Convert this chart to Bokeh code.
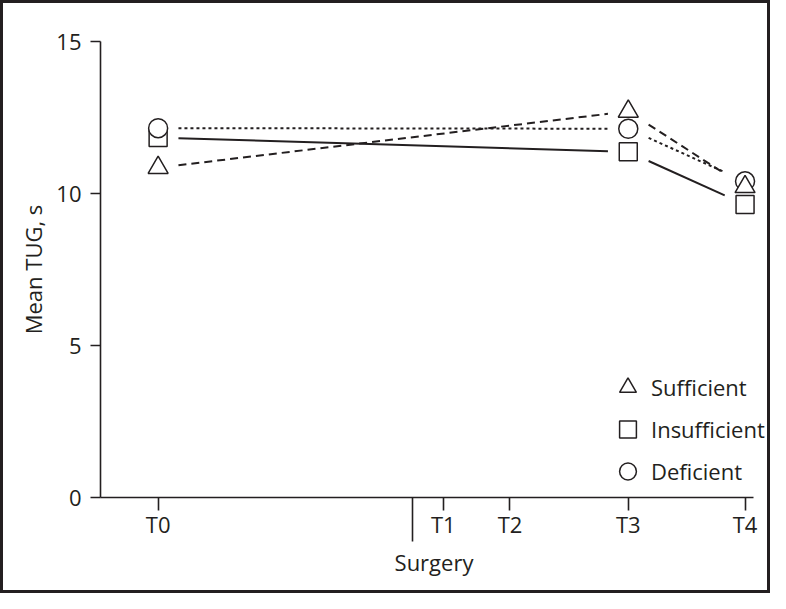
from bokeh.plotting import figure
from bokeh.models import FixedTicker, Legend, LegendItem, Range1d, ColumnDataSource
from bokeh.embed import file_html
from bokeh.resources import INLINE

# ---- data ----
time_labels = ["T0", "T1", "T2", "T3", "T4"]
time_pos = [-8.4, 1.0, 3.2, 7.1, 10.95]
surgery_pos = 0.0
measured_pos = [-8.4, 7.1, 10.95]          # T0, T3, T4
sufficient = [10.85, 12.70, 10.22]
insufficient = [11.84, 11.37, 9.64]
deficient = [12.15, 12.13, 10.40]
y_ticks = [0, 5, 10, 15]

INK = "#231f20"
FONT = "Open Sans"
FS = "22px"
GAP = 0.67  # gap between marker and connecting line (x units)

X_START, X_AXIS_END, X_END = -10.30, 11.23, 11.69


def gapped(xs, ys, gap):
    x0s, y0s, x1s, y1s = [], [], [], []
    for i in range(len(xs) - 1):
        xa, xb, ya, yb = xs[i], xs[i + 1], ys[i], ys[i + 1]
        t = gap / (xb - xa)
        x0s.append(xa + t * (xb - xa)); y0s.append(ya + t * (yb - ya))
        x1s.append(xb - t * (xb - xa)); y1s.append(yb - t * (yb - ya))
    return dict(x0=x0s, y0=y0s, x1=x1s, y1=y1s)


p = figure(width=770, height=593,
           x_range=Range1d(X_START, X_END), y_range=Range1d(0, 15),
           output_backend="svg", toolbar_location=None,
           min_border_left=97, min_border_right=6,
           min_border_top=38, min_border_bottom=99)
p.styles = {"border": "3px solid " + INK}
p.grid.visible = False
p.outline_line_color = None

# connecting lines
p.segment("x0", "y0", "x1", "y1", source=ColumnDataSource(gapped(measured_pos, insufficient, GAP)),
          line_color=INK, line_width=2)
p.segment("x0", "y0", "x1", "y1", source=ColumnDataSource(gapped(measured_pos, sufficient, GAP)),
          line_color=INK, line_width=2, line_dash="8 5")
p.segment("x0", "y0", "x1", "y1", source=ColumnDataSource(gapped(measured_pos, deficient, GAP)),
          line_color=INK, line_width=2, line_dash="3 3")

# markers
r_sq = p.scatter(measured_pos, insufficient, marker="square", size=18,
                 line_color=INK, line_width=1.5, fill_color="white")
r_ci = p.scatter(measured_pos, deficient, marker="circle", size=19,
                 line_color=INK, line_width=1.5, fill_color="white")
r_tr = p.scatter(measured_pos, sufficient, marker="triangle", size=20,
                 line_color=INK, line_width=1.5, fill_color="white")

legend = Legend(items=[LegendItem(label="Sufficient", renderers=[r_tr]),
                       LegendItem(label="Insufficient", renderers=[r_sq]),
                       LegendItem(label="Deficient", renderers=[r_ci])],
                location=(505, 5), glyph_width=45, glyph_height=42, spacing=0,
                label_standoff=1, padding=0, margin=0,
                border_line_color=None, background_fill_alpha=0,
                label_text_font=FONT, label_text_font_size=FS, label_text_color=INK)
p.add_layout(legend)

# x axis
xa = p.xaxis[0]
xa.bounds = (X_START, X_AXIS_END)
xa.ticker = FixedTicker(ticks=time_pos, minor_ticks=[surgery_pos])
xa.major_label_overrides = {pos: lab for pos, lab in zip(time_pos, time_labels)}
xa.axis_label = "Surgery"
xa.major_tick_out = 13
xa.major_tick_in = 0
xa.minor_tick_out = 44
xa.minor_tick_in = 0
xa.major_label_standoff = -33
xa.axis_label_standoff = 5

# y axis
ya = p.yaxis[0]
ya.ticker = FixedTicker(ticks=y_ticks, minor_ticks=[])
ya.axis_label = "Mean TUG, s"
ya.major_tick_out = 10
ya.major_tick_in = 0
ya.major_label_standoff = 9
ya.axis_label_standoff = 5

for ax in (xa, ya):
    ax.axis_line_color = INK
    ax.axis_line_width = 1.6
    ax.major_tick_line_color = INK
    ax.major_tick_line_width = 1.6
    ax.minor_tick_line_color = INK
    ax.minor_tick_line_width = 1.6
    ax.major_label_text_font = FONT
    ax.major_label_text_font_size = FS
    ax.major_label_text_color = INK
    ax.axis_label_text_font = FONT
    ax.axis_label_text_font_size = FS
    ax.axis_label_text_font_style = "normal"
    ax.axis_label_text_color = INK

open("out.html", "w").write(file_html(p, INLINE))
